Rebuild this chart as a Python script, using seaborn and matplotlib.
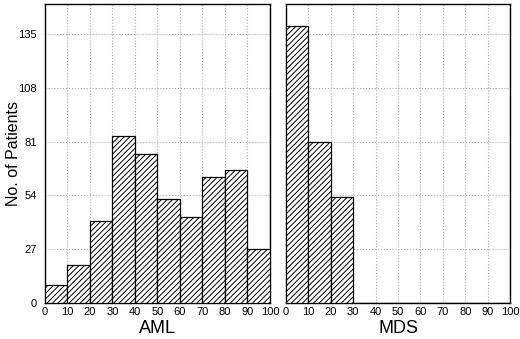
import numpy as np
import pandas as pd
import matplotlib
matplotlib.use('Agg')
import matplotlib.pyplot as plt
import seaborn as sns

# bin edges (blast %) and patient counts per bin
bin_edges = [0, 10, 20, 30, 40, 50, 60, 70, 80, 90, 100]
aml_counts = [9, 19, 41, 84, 75, 52, 43, 63, 67, 27]
mds_counts = [139, 81, 53]
y_ticks = [0, 27, 54, 81, 108, 135]
x_ticks = [0, 10, 20, 30, 40, 50, 60, 70, 80, 90, 100]


def main():
    sns.set_style('white')
    plt.rcParams['font.family'] = ['Liberation Sans', 'DejaVu Sans']
    plt.rcParams['hatch.linewidth'] = 0.7
    plt.rcParams['text.color'] = 'black'
    plt.rcParams['axes.labelcolor'] = 'black'
    plt.rcParams['xtick.color'] = 'black'
    plt.rcParams['ytick.color'] = 'black'

    fig = plt.figure(figsize=(5.2, 3.39), dpi=100)
    ax1 = fig.add_axes([0.0865, 0.106, 0.4327, 0.882])
    ax2 = fig.add_axes([0.55, 0.106, 0.4308, 0.882])

    panels = [(ax1, aml_counts, 'AML'), (ax2, mds_counts, 'MDS')]
    for ax, counts, name in panels:
        centers = [(bin_edges[i] + bin_edges[i + 1]) / 2 for i in range(len(counts))]
        df = pd.DataFrame({'blast': centers, 'n': counts})
        sns.histplot(data=df, x='blast', weights='n', bins=bin_edges,
                     ax=ax, color='white', edgecolor='black', linewidth=0.9,
                     alpha=1, zorder=3)
        for p in ax.patches:
            p.set_hatch('//////')

        ax.set_xlim(0, 100)
        ax.set_ylim(0, 150)
        ax.set_xticks(x_ticks)
        ax.set_yticks(y_ticks)
        ax.grid(True, color='#aaaaaa', linestyle=':', linewidth=0.8, zorder=0)
        ax.tick_params(axis='x', labelsize=8, length=0, pad=3)
        ax.tick_params(axis='y', labelsize=8, length=0, pad=6)
        ax.set_xlabel(name, fontsize=13, labelpad=2)
        for s in ax.spines.values():
            s.set_linewidth(1.0)
            s.set_color('black')

    ax1.set_ylabel('No. of Patients', fontsize=11.5)
    ax1.yaxis.set_label_coords(-0.105, 0.5)
    ax2.set_ylabel('')
    ax2.set_yticklabels([])

    plt.savefig('out.png', dpi=100)
    plt.close()


if __name__ == '__main__':
    main()
